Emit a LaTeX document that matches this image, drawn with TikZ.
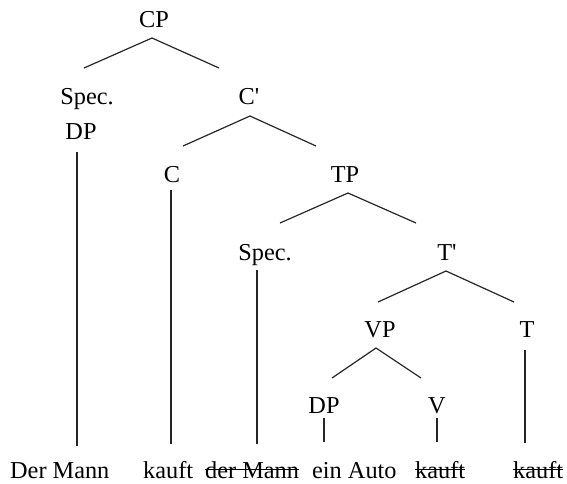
\documentclass[tikz,border=0pt]{standalone}
\usepackage{fontspec}
\setmainfont{Liberation Serif}[Ligatures=TeXOff]
\newcommand\strk[1]{\setbox0\hbox{#1}\rlap{\rule[0.33em]{\wd0}{0.06em}}\box0}
\tikzset{
  lab/.style={inner sep=0pt, anchor=base, font=\fontsize{24.3}{28}\selectfont},
  word/.style={inner sep=0pt, anchor=base west, font=\fontsize{24.3}{28}\selectfont},
  branch/.style={line width=1.2pt, black!85}
}
\begin{document}
\begin{tikzpicture}[x=1pt,y=-1pt]
\useasboundingbox (0,0) rectangle (567,483);
% labels
\node[lab] (cp) at (154,27) {CP};
\node[lab] (spec1) at (87,104) {Spec.};
\node[lab] (dp1) at (81,139) {DP};
\node[lab] (cbar) at (249,104) {C'};
\node[lab] (c) at (172,182) {C};
\node[lab] (tp) at (345,182) {TP};
\node[lab] (spec2) at (265,260) {Spec.};
\node[lab] (tbar) at (447,260) {T'};
\node[lab] (vp) at (380,337) {VP};
\node[lab] (t) at (527,337) {T};
\node[lab] (dp2) at (324,413) {DP};
\node[lab] (v) at (437,413) {V};
% words
\node[word] (w1) at (10,478) {Der Mann};
\node[word] (w2) at (143,478) {kauft};
\node[word] (w3) at (205,478) {\strk{der Mann}};
\node[word] (w4) at (312,478) {ein Auto};
\node[word] (w5) at (415,478) {\strk{kauft}};
\node[word] (w6) at (513,478) {\strk{kauft}};
% branch points
\coordinate (cpA) at (152,38);  \coordinate (cpL) at (84,68);   \coordinate (cpR) at (219,68);
\coordinate (cbA) at (250,116); \coordinate (cbL) at (183,146); \coordinate (cbR) at (316,146);
\coordinate (tpA) at (348,193); \coordinate (tpL) at (280,223); \coordinate (tpR) at (416,223);
\coordinate (tbA) at (446,271); \coordinate (tbL) at (378,302); \coordinate (tbR) at (514,302);
\coordinate (vpA) at (376,348); \coordinate (vpL) at (332,378); \coordinate (vpR) at (421,378);
\draw[branch] (cpL) -- (cpA) -- (cpR);
\draw[branch] (cbL) -- (cbA) -- (cbR);
\draw[branch] (tpL) -- (tpA) -- (tpR);
\draw[branch] (tbL) -- (tbA) -- (tbR);
\draw[branch] (vpL) -- (vpA) -- (vpR);
% vertical lines
\coordinate (e1) at (77,446); \coordinate (s1) at (77,152);
\coordinate (e2) at (171,444); \coordinate (s2) at (171,190);
\coordinate (e3) at (257,444); \coordinate (s3) at (257,270);
\coordinate (e4) at (324,442); \coordinate (s4) at (324,418);
\coordinate (e5) at (437,442); \coordinate (s5) at (437,418);
\coordinate (e6) at (525,443); \coordinate (s6) at (525,350);
\draw[branch] (s1) -- (e1);
\draw[branch] (s2) -- (e2);
\draw[branch] (s3) -- (e3);
\draw[branch] (s4) -- (e4);
\draw[branch] (s5) -- (e5);
\draw[branch] (s6) -- (e6);
\end{tikzpicture}
\end{document}
